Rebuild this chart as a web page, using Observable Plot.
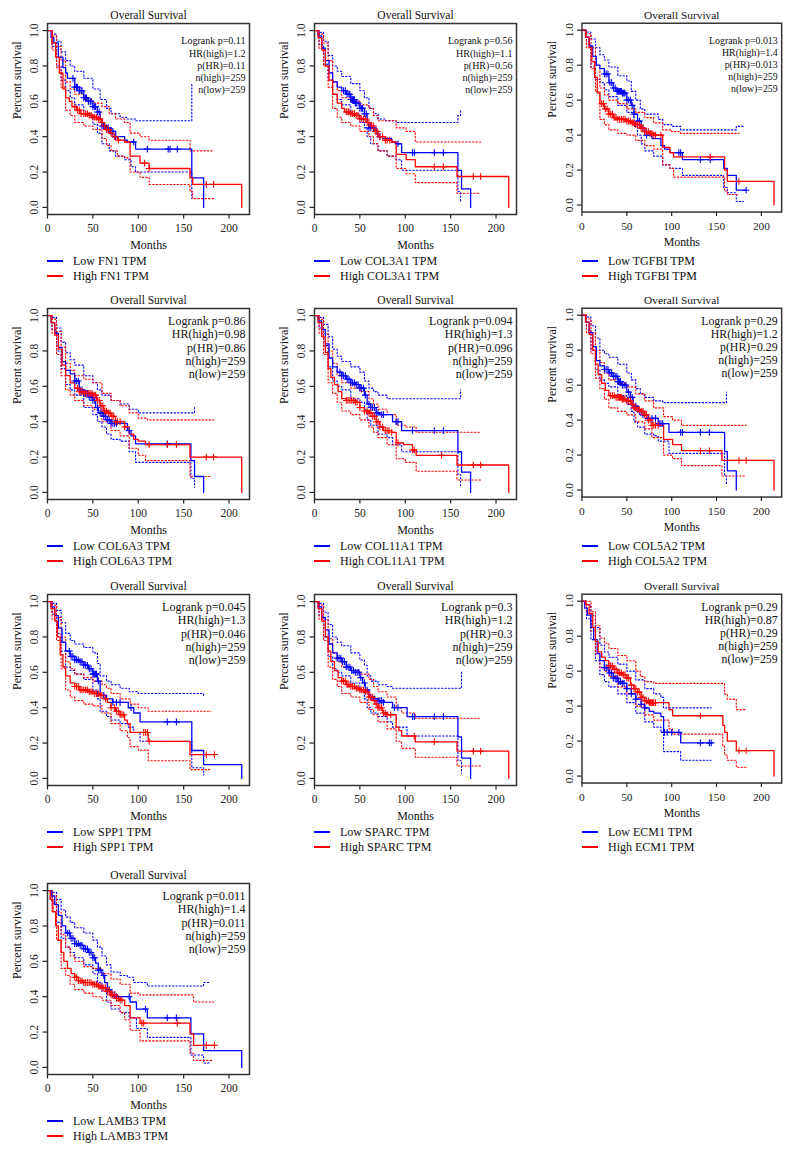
<!DOCTYPE html>
<html><head><meta charset="utf-8">
<script src="https://cdn.jsdelivr.net/npm/d3@7"></script>
<script src="https://cdn.jsdelivr.net/npm/@observablehq/plot@0.6"></script>
<style>
body{margin:0;background:#fff;}
#root{position:relative;width:795px;height:1154px;background:#fff;font-family:"Liberation Serif","Times New Roman",serif;color:#111;overflow:hidden}
.panel{position:absolute}
.panel svg{overflow:visible}
.leg{position:absolute;height:14px;line-height:14px;font-size:12px;white-space:nowrap;width:260px}
.leg .ln{position:absolute;top:6px;height:1.5px;width:16.5px}
.leg .tx{position:absolute;top:0}
</style></head><body><div id="root"></div><script>
// ---------- DATA ----------
const genes = ["FN1","COL3A1","TGFBI","COL6A3","COL11A1","COL5A2","SPP1","SPARC","ECM1","LAMB3"];
const logrankP = ["0.11","0.56","0.013","0.86","0.094","0.29","0.045","0.3","0.29","0.011"];
const hrHigh   = ["1.2","1.1","1.4","0.98","1.3","1.2","1.3","1.2","0.87","1.4"];
const pHR      = ["0.11","0.56","0.013","0.86","0.096","0.29","0.046","0.3","0.29","0.011"];
const nHigh    = [259,259,259,259,259,259,259,259,259,259];
const nLow     = [259,259,259,259,259,259,259,259,259,259];
const xTicks = [0,50,100,150,200];
const yTicks = [0,0.2,0.4,0.6,0.8,1.0];

// FN1
const FN1_low = [[0,1],[4,0.96],[7,0.93],[12,0.85],[17,0.79],[20,0.76],[22,0.73],[30,0.68],[35,0.66],[40,0.62],[45,0.60],[50,0.57],[55,0.54],[58,0.50],[60,0.46],[65,0.45],[70,0.43],[75,0.40],[85,0.38],[88,0.37],[97,0.33],[159,0.167],[172,0]];
const FN1_high = [[0,1],[5,0.93],[9,0.85],[13,0.76],[17,0.67],[20,0.62],[24,0.60],[27,0.57],[32,0.55],[36,0.53],[45,0.52],[50,0.51],[55,0.50],[60,0.48],[62,0.46],[65,0.44],[68,0.42],[72,0.40],[77,0.38],[85,0.37],[91,0.29],[102,0.25],[112,0.22],[157,0.167],[160,0.13],[214,0]];
const FN1_lowCens = [28,30,32,33,35,37,38,40,42,43,45,47,48,50,52,53,55,57,60,62,63,65,67,70,72,75,95,110,133,135,143];
const FN1_highCens = [30,33,35,37,40,42,44,46,48,50,52,54,56,58,60,63,65,67,70,74,78,107,112,175,183];
const FN1_lowUp = [[0,1],[5,0.98],[10,0.94],[15,0.88],[20,0.83],[25,0.80],[30,0.77],[40,0.73],[50,0.67],[58,0.61],[65,0.56],[70,0.53],[80,0.51],[87,0.50],[97,0.49],[159,0.70]];
const FN1_lowDn = [[0,1],[5,0.91],[10,0.80],[15,0.72],[20,0.66],[25,0.62],[30,0.58],[40,0.53],[50,0.47],[55,0.42],[60,0.36],[68,0.32],[75,0.29],[85,0.27],[92,0.23],[97,0.20],[159,0.05]];
const FN1_highUp = [[0,1],[5,0.97],[10,0.91],[15,0.83],[20,0.71],[25,0.67],[30,0.64],[40,0.61],[50,0.59],[60,0.57],[68,0.53],[75,0.50],[85,0.48],[91,0.42],[102,0.40],[112,0.38],[157,0.32],[183,0.32]];
const FN1_highDn = [[0,1],[5,0.89],[10,0.79],[15,0.68],[20,0.55],[25,0.52],[30,0.48],[40,0.46],[50,0.44],[60,0.39],[65,0.35],[70,0.32],[77,0.29],[85,0.28],[91,0.20],[102,0.17],[112,0.13],[157,0.09],[160,0.05],[183,0.05]];

// COL3A1
const COL3A1_low = [[0,1],[4,0.97],[8,0.90],[12,0.83],[16,0.76],[20,0.71],[25,0.68],[30,0.66],[35,0.64],[40,0.61],[45,0.59],[50,0.56],[55,0.53],[58,0.48],[60,0.45],[66,0.43],[70,0.40],[75,0.39],[85,0.37],[90,0.36],[96,0.31],[158,0.21],[162,0.105],[172,0]];
const COL3A1_high = [[0,1],[4,0.96],[8,0.89],[12,0.80],[16,0.72],[20,0.64],[25,0.59],[30,0.56],[33,0.54],[40,0.53],[45,0.52],[50,0.50],[58,0.48],[62,0.46],[66,0.43],[70,0.40],[78,0.38],[85,0.37],[90,0.30],[101,0.27],[111,0.23],[157,0.175],[214,0]];
const COL3A1_lowCens = [32,34,36,38,39,40,41,42,43,44,45,46,48,50,52,53,55,57,60,62,65,68,72,92,108,110,132,142];
const COL3A1_highCens = [35,37,38,40,42,44,46,48,50,52,54,56,58,60,63,65,67,69,72,75,78,80,83,132,142,175,183];
const COL3A1_lowUp = [[0,1],[5,0.99],[10,0.94],[15,0.86],[20,0.80],[25,0.77],[30,0.74],[40,0.70],[50,0.66],[55,0.62],[60,0.56],[65,0.53],[70,0.50],[78,0.49],[90,0.48],[158,0.52],[161,0.55]];
const COL3A1_lowDn = [[0,1],[5,0.92],[10,0.81],[15,0.72],[20,0.64],[25,0.61],[30,0.58],[40,0.53],[50,0.48],[55,0.45],[58,0.40],[62,0.36],[70,0.32],[80,0.29],[90,0.27],[96,0.21],[158,0.09],[161,0.03]];
const COL3A1_highUp = [[0,1],[5,0.98],[10,0.93],[15,0.83],[20,0.71],[25,0.66],[30,0.62],[40,0.60],[50,0.58],[60,0.56],[65,0.52],[70,0.49],[90,0.45],[101,0.43],[111,0.37],[157,0.37],[183,0.37]];
const COL3A1_highDn = [[0,1],[5,0.90],[10,0.80],[15,0.68],[20,0.56],[25,0.51],[30,0.48],[40,0.46],[50,0.43],[60,0.40],[65,0.36],[70,0.32],[80,0.29],[90,0.22],[101,0.19],[111,0.14],[157,0.08],[183,0.08]];

// TGFBI
const TGFBI_low = [[0,1],[4,0.96],[8,0.91],[12,0.85],[16,0.80],[20,0.78],[25,0.75],[30,0.70],[35,0.67],[38,0.65],[45,0.64],[50,0.60],[55,0.57],[58,0.52],[62,0.48],[66,0.44],[70,0.40],[78,0.38],[88,0.34],[92,0.32],[98,0.30],[112,0.26],[158,0.21],[162,0.17],[172,0.085],[183,0.085]];
const TGFBI_high = [[0,1],[4,0.96],[8,0.90],[11,0.82],[14,0.73],[17,0.64],[20,0.58],[25,0.55],[30,0.52],[35,0.50],[40,0.49],[50,0.48],[55,0.47],[60,0.46],[65,0.44],[70,0.42],[75,0.41],[80,0.40],[90,0.33],[98,0.30],[102,0.275],[159,0.20],[162,0.135],[214,0]];
const TGFBI_lowCens = [25,27,29,31,33,35,37,39,40,41,42,43,44,45,46,47,48,50,52,54,56,58,62,64,68,72,108,110,132,143,183];
const TGFBI_highCens = [22,24,26,28,30,32,34,36,38,40,42,44,46,48,50,52,54,56,58,60,62,64,66,68,70,72,74,76,78,80,82,88,143,175];
const TGFBI_lowUp = [[0,1],[5,0.99],[10,0.95],[15,0.90],[20,0.86],[25,0.83],[30,0.79],[40,0.74],[50,0.71],[55,0.65],[60,0.60],[65,0.55],[70,0.52],[85,0.49],[90,0.46],[100,0.45],[110,0.43],[158,0.43],[172,0.45],[180,0.46]];
const TGFBI_lowDn = [[0,1],[5,0.92],[10,0.79],[15,0.72],[20,0.70],[25,0.66],[30,0.62],[40,0.57],[50,0.53],[58,0.45],[62,0.40],[66,0.35],[70,0.31],[80,0.28],[90,0.23],[98,0.21],[112,0.17],[158,0.10],[162,0.07],[172,0.02],[180,0.02]];
const TGFBI_highUp = [[0,1],[5,0.98],[10,0.90],[15,0.80],[20,0.67],[25,0.63],[30,0.60],[40,0.58],[50,0.55],[60,0.53],[70,0.50],[80,0.47],[90,0.43],[100,0.42],[110,0.41],[158,0.41],[175,0.41]];
const TGFBI_highDn = [[0,1],[5,0.90],[10,0.78],[15,0.65],[20,0.49],[25,0.46],[30,0.43],[40,0.41],[50,0.40],[60,0.37],[70,0.34],[80,0.32],[90,0.23],[98,0.21],[102,0.16],[159,0.08],[162,0.06],[175,0.06]];

// COL6A3
const COL6A3_low = [[0,1],[4,0.96],[8,0.90],[12,0.82],[16,0.74],[20,0.69],[25,0.67],[30,0.63],[35,0.58],[40,0.56],[45,0.54],[50,0.52],[53,0.48],[56,0.45],[62,0.43],[66,0.41],[70,0.39],[80,0.39],[88,0.35],[92,0.32],[97,0.275],[158,0.18],[162,0.09],[172,0]];
const COL6A3_high = [[0,1],[4,0.96],[8,0.89],[12,0.81],[16,0.72],[20,0.66],[25,0.62],[30,0.59],[35,0.57],[40,0.56],[50,0.55],[54,0.52],[58,0.49],[62,0.46],[66,0.45],[70,0.43],[75,0.40],[85,0.37],[90,0.33],[95,0.30],[100,0.29],[108,0.27],[157,0.20],[214,0]];
const COL6A3_lowCens = [30,32,34,36,38,40,42,44,46,48,50,52,55,58,60,62,64,66,68,70,72,74,76,90,132];
const COL6A3_highCens = [33,35,37,39,41,43,45,47,49,51,53,55,57,59,61,63,65,67,69,71,73,75,77,80,85,112,132,142,175,183];
const COL6A3_lowUp = [[0,1],[5,0.99],[10,0.93],[15,0.85],[20,0.79],[25,0.75],[30,0.72],[40,0.66],[50,0.62],[55,0.58],[60,0.55],[70,0.52],[80,0.50],[90,0.47],[100,0.45],[158,0.45],[162,0.48]];
const COL6A3_lowDn = [[0,1],[5,0.92],[10,0.80],[15,0.70],[20,0.61],[25,0.58],[30,0.55],[40,0.48],[50,0.44],[55,0.40],[60,0.37],[65,0.33],[70,0.30],[80,0.29],[90,0.23],[97,0.17],[158,0.08],[162,0.03]];
const COL6A3_highUp = [[0,1],[5,0.98],[10,0.91],[15,0.82],[20,0.73],[25,0.69],[30,0.66],[40,0.64],[50,0.62],[60,0.56],[70,0.52],[80,0.49],[90,0.45],[100,0.42],[110,0.41],[157,0.41],[183,0.41]];
const COL6A3_highDn = [[0,1],[5,0.90],[10,0.78],[15,0.66],[20,0.58],[25,0.55],[30,0.52],[40,0.49],[50,0.47],[60,0.40],[70,0.35],[80,0.32],[90,0.25],[100,0.21],[108,0.18],[157,0.09],[180,0.09]];

// COL11A1
const COL11A1_low = [[0,1],[4,0.97],[8,0.92],[12,0.84],[16,0.76],[20,0.71],[25,0.68],[30,0.66],[35,0.64],[40,0.62],[45,0.61],[50,0.59],[55,0.55],[58,0.50],[62,0.48],[68,0.45],[72,0.44],[86,0.40],[96,0.35],[158,0.23],[162,0.115],[172,0]];
const COL11A1_high = [[0,1],[4,0.96],[8,0.88],[12,0.79],[15,0.70],[18,0.65],[22,0.61],[26,0.57],[30,0.53],[35,0.52],[45,0.51],[50,0.48],[55,0.46],[60,0.45],[64,0.43],[68,0.40],[72,0.37],[76,0.35],[85,0.34],[90,0.28],[98,0.27],[108,0.24],[112,0.21],[157,0.155],[214,0]];
const COL11A1_lowCens = [28,30,32,34,36,38,40,42,44,46,48,50,52,54,56,60,62,64,66,68,70,74,76,90,92,108,132,142];
const COL11A1_highCens = [35,37,39,41,43,45,47,50,55,58,60,62,64,66,68,70,72,75,78,80,82,85,92,108,110,140,175,183];
const COL11A1_lowUp = [[0,1],[5,0.99],[10,0.95],[15,0.88],[20,0.81],[25,0.77],[30,0.74],[40,0.71],[50,0.68],[55,0.63],[60,0.59],[65,0.57],[70,0.55],[80,0.53],[158,0.53],[161,0.58]];
const COL11A1_lowDn = [[0,1],[5,0.93],[10,0.83],[15,0.71],[20,0.63],[25,0.60],[30,0.58],[40,0.53],[50,0.51],[55,0.47],[58,0.41],[62,0.38],[70,0.33],[80,0.31],[86,0.27],[96,0.23],[158,0.10],[161,0.03]];
const COL11A1_highUp = [[0,1],[5,0.98],[10,0.90],[15,0.80],[20,0.73],[25,0.66],[30,0.62],[40,0.59],[50,0.57],[60,0.53],[65,0.50],[70,0.47],[80,0.44],[90,0.38],[100,0.37],[112,0.34],[157,0.34],[183,0.34]];
const COL11A1_highDn = [[0,1],[5,0.90],[10,0.78],[15,0.62],[20,0.56],[25,0.51],[30,0.46],[40,0.44],[50,0.41],[60,0.37],[65,0.34],[70,0.31],[80,0.27],[90,0.19],[100,0.17],[112,0.12],[157,0.07],[183,0.07]];

// COL5A2
const COL5A2_low = [[0,1],[4,0.96],[8,0.90],[12,0.82],[16,0.74],[20,0.71],[25,0.69],[30,0.67],[35,0.65],[40,0.62],[45,0.60],[50,0.56],[54,0.53],[57,0.48],[62,0.45],[66,0.43],[72,0.41],[85,0.38],[97,0.33],[159,0.22],[162,0.11],[172,0]];
const COL5A2_high = [[0,1],[4,0.96],[8,0.89],[12,0.80],[15,0.72],[18,0.66],[22,0.61],[26,0.57],[30,0.54],[38,0.53],[45,0.52],[50,0.51],[55,0.49],[58,0.47],[62,0.46],[66,0.45],[70,0.43],[74,0.40],[78,0.37],[91,0.29],[101,0.26],[111,0.225],[156,0.17],[214,0]];
const COL5A2_lowCens = [25,27,29,31,33,35,37,39,40,41,42,43,45,47,49,52,54,56,60,64,68,74,78,82,86,88,90,110,112,132,142];
const COL5A2_highCens = [32,34,36,38,40,41,42,43,44,45,46,48,50,52,54,56,58,60,62,64,66,68,70,72,74,76,78,80,82,85,132,142,175,183];
const COL5A2_lowUp = [[0,1],[5,0.99],[10,0.94],[15,0.87],[20,0.80],[25,0.78],[30,0.76],[40,0.72],[50,0.67],[55,0.63],[60,0.58],[65,0.55],[70,0.53],[80,0.51],[90,0.50],[159,0.50],[161,0.56]];
const COL5A2_lowDn = [[0,1],[5,0.92],[10,0.80],[15,0.69],[20,0.63],[25,0.61],[30,0.59],[40,0.54],[50,0.49],[55,0.45],[58,0.39],[62,0.36],[70,0.32],[80,0.31],[85,0.28],[97,0.21],[159,0.08],[161,0.03]];
const COL5A2_highUp = [[0,1],[5,0.98],[10,0.90],[15,0.80],[20,0.73],[25,0.67],[30,0.63],[40,0.61],[50,0.59],[60,0.55],[70,0.51],[80,0.47],[91,0.42],[101,0.40],[111,0.37],[156,0.37],[183,0.37]];
const COL5A2_highDn = [[0,1],[5,0.90],[10,0.78],[15,0.64],[20,0.58],[25,0.52],[30,0.47],[40,0.45],[50,0.43],[60,0.39],[70,0.35],[78,0.30],[91,0.20],[101,0.18],[111,0.14],[156,0.08],[183,0.08]];

// SPP1
const SPP1_low = [[0,1],[4,0.97],[8,0.92],[12,0.85],[16,0.77],[20,0.72],[25,0.69],[30,0.67],[35,0.66],[40,0.64],[45,0.62],[50,0.59],[55,0.55],[58,0.47],[65,0.45],[72,0.43],[89,0.40],[95,0.37],[102,0.32],[159,0.158],[172,0.078],[214,0]];
const SPP1_high = [[0,1],[4,0.96],[8,0.89],[11,0.80],[14,0.70],[17,0.63],[20,0.58],[25,0.54],[30,0.52],[35,0.50],[45,0.49],[52,0.48],[58,0.47],[62,0.45],[66,0.43],[70,0.40],[75,0.38],[80,0.36],[85,0.33],[88,0.31],[91,0.26],[111,0.21],[157,0.135],[184,0.135]];
const SPP1_lowCens = [24,26,28,30,32,34,36,38,40,42,44,46,48,50,51,52,53,54,56,62,72,76,80,92,132,142];
const SPP1_highCens = [30,32,34,36,38,40,42,44,46,48,50,52,54,56,58,60,64,70,74,76,78,80,82,84,106,108,110,112,175,184];
const SPP1_lowUp = [[0,1],[5,0.99],[10,0.95],[15,0.88],[20,0.82],[25,0.78],[30,0.76],[40,0.74],[50,0.71],[55,0.65],[58,0.58],[65,0.55],[70,0.53],[80,0.51],[90,0.49],[100,0.48],[159,0.48],[172,0.46]];
const SPP1_lowDn = [[0,1],[5,0.93],[10,0.82],[15,0.72],[20,0.63],[25,0.61],[30,0.59],[40,0.56],[50,0.50],[55,0.45],[58,0.38],[65,0.35],[70,0.33],[80,0.31],[89,0.29],[95,0.26],[102,0.21],[159,0.06],[172,0.02]];
const SPP1_highUp = [[0,1],[5,0.98],[10,0.91],[15,0.80],[20,0.66],[25,0.62],[30,0.59],[40,0.57],[50,0.55],[60,0.53],[65,0.51],[70,0.48],[80,0.45],[91,0.42],[100,0.40],[111,0.38],[157,0.38],[180,0.38]];
const SPP1_highDn = [[0,1],[5,0.90],[10,0.78],[15,0.62],[20,0.50],[25,0.46],[30,0.44],[40,0.42],[50,0.41],[60,0.37],[70,0.31],[80,0.27],[88,0.23],[91,0.18],[100,0.16],[111,0.10],[157,0.05],[180,0.05]];

// SPARC
const SPARC_low = [[0,1],[4,0.97],[8,0.91],[12,0.84],[16,0.76],[20,0.71],[25,0.68],[30,0.66],[35,0.63],[40,0.61],[45,0.60],[50,0.57],[53,0.54],[56,0.50],[60,0.46],[65,0.45],[70,0.44],[76,0.43],[86,0.40],[102,0.35],[158,0.235],[162,0.115],[172,0]];
const SPARC_high = [[0,1],[4,0.96],[8,0.89],[12,0.80],[15,0.72],[18,0.66],[22,0.61],[26,0.57],[30,0.55],[35,0.53],[40,0.52],[45,0.51],[50,0.50],[55,0.49],[60,0.46],[65,0.44],[68,0.42],[70,0.40],[75,0.37],[80,0.36],[90,0.29],[93,0.27],[96,0.24],[111,0.207],[157,0.154],[214,0]];
const SPARC_lowCens = [25,27,29,31,33,35,37,39,41,43,45,47,49,51,55,58,62,66,70,72,74,76,88,92,108,110,132,142];
const SPARC_highCens = [30,32,34,36,38,40,42,44,46,48,50,52,54,56,58,60,62,64,66,68,70,72,74,76,78,80,84,110,132,175,183];
const SPARC_lowUp = [[0,1],[5,0.99],[10,0.94],[15,0.87],[20,0.80],[25,0.77],[30,0.75],[40,0.71],[50,0.67],[55,0.64],[58,0.58],[62,0.55],[70,0.53],[80,0.52],[86,0.51],[158,0.51],[162,0.61]];
const SPARC_lowDn = [[0,1],[5,0.92],[10,0.80],[15,0.69],[20,0.62],[25,0.60],[30,0.58],[40,0.54],[50,0.49],[55,0.45],[58,0.40],[62,0.37],[70,0.35],[80,0.32],[86,0.29],[102,0.24],[158,0.10],[162,0.03]];
const SPARC_highUp = [[0,1],[5,0.98],[10,0.90],[15,0.79],[20,0.71],[25,0.66],[30,0.63],[40,0.61],[50,0.59],[60,0.56],[65,0.52],[70,0.49],[80,0.46],[90,0.40],[96,0.37],[111,0.34],[157,0.34],[183,0.34]];
const SPARC_highDn = [[0,1],[5,0.90],[10,0.78],[15,0.63],[20,0.56],[25,0.52],[30,0.48],[40,0.46],[50,0.43],[60,0.39],[65,0.36],[70,0.32],[80,0.28],[90,0.21],[96,0.17],[111,0.12],[157,0.07],[183,0.07]];

// ECM1
const ECM1_low = [[0,1],[3,0.96],[6,0.92],[10,0.85],[13,0.78],[17,0.70],[20,0.66],[25,0.62],[30,0.59],[35,0.56],[40,0.54],[45,0.53],[50,0.50],[55,0.47],[60,0.44],[66,0.41],[70,0.39],[75,0.37],[80,0.36],[88,0.34],[91,0.25],[110,0.19],[144,0.19]];
const ECM1_high = [[0,1],[4,0.98],[8,0.93],[12,0.85],[15,0.77],[18,0.71],[22,0.68],[26,0.66],[30,0.63],[35,0.61],[40,0.59],[45,0.58],[50,0.56],[54,0.52],[58,0.50],[62,0.48],[66,0.45],[70,0.43],[75,0.42],[97,0.38],[101,0.345],[157,0.29],[159,0.25],[162,0.20],[172,0.145],[214,0]];
const ECM1_lowCens = [25,27,29,31,33,35,37,39,41,43,45,47,50,55,60,66,70,92,95,100,108,132,142,144];
const ECM1_highCens = [30,32,34,36,38,40,42,44,46,48,50,52,55,58,60,62,64,66,68,70,72,74,75,76,77,78,79,80,82,132,175,183];
const ECM1_lowUp = [[0,1],[5,0.98],[10,0.92],[15,0.85],[20,0.75],[25,0.71],[30,0.68],[40,0.64],[50,0.60],[60,0.55],[70,0.50],[80,0.47],[88,0.45],[91,0.39],[144,0.39]];
const ECM1_lowDn = [[0,1],[5,0.90],[10,0.78],[15,0.66],[20,0.58],[25,0.54],[30,0.51],[40,0.47],[50,0.42],[60,0.36],[70,0.31],[80,0.28],[88,0.25],[91,0.14],[110,0.09],[144,0.09]];
const ECM1_highUp = [[0,1],[10,0.94],[15,0.86],[20,0.79],[25,0.76],[30,0.73],[40,0.69],[50,0.66],[60,0.60],[65,0.57],[70,0.54],[80,0.53],[157,0.53],[159,0.47],[162,0.44],[172,0.38],[183,0.38]];
const ECM1_highDn = [[0,1],[5,0.93],[10,0.83],[15,0.70],[20,0.62],[25,0.60],[30,0.57],[40,0.51],[50,0.47],[60,0.40],[70,0.35],[80,0.32],[97,0.27],[101,0.24],[157,0.17],[159,0.12],[162,0.09],[172,0.05],[183,0.05]];

// LAMB3
const LAMB3_low = [[0,1],[4,0.97],[8,0.92],[12,0.86],[16,0.80],[20,0.76],[25,0.73],[30,0.70],[35,0.69],[40,0.67],[45,0.65],[50,0.62],[53,0.59],[56,0.55],[60,0.52],[63,0.48],[66,0.44],[70,0.41],[75,0.40],[91,0.37],[98,0.33],[110,0.28],[158,0.19],[172,0.095],[214,0]];
const LAMB3_high = [[0,1],[3,0.95],[6,0.88],[9,0.80],[12,0.72],[15,0.65],[18,0.60],[22,0.56],[26,0.53],[30,0.51],[34,0.49],[40,0.48],[50,0.47],[55,0.46],[60,0.45],[65,0.43],[70,0.41],[75,0.39],[80,0.38],[85,0.35],[91,0.28],[102,0.25],[157,0.19],[161,0.125],[184,0.125]];
const LAMB3_lowCens = [22,24,26,28,30,32,34,36,38,40,42,44,46,48,50,52,56,58,62,68,72,74,76,90,108,132,142];
const LAMB3_highCens = [30,32,34,36,38,40,42,44,46,48,50,52,54,56,58,60,62,64,66,68,70,72,74,76,78,80,82,104,106,143,175,184];
const LAMB3_lowUp = [[0,1],[5,0.99],[10,0.95],[15,0.89],[20,0.85],[25,0.82],[30,0.79],[40,0.76],[50,0.72],[55,0.68],[60,0.63],[65,0.58],[70,0.54],[80,0.52],[88,0.51],[95,0.48],[110,0.46],[158,0.46],[172,0.48],[178,0.48]];
const LAMB3_lowDn = [[0,1],[5,0.93],[10,0.82],[15,0.73],[20,0.68],[25,0.65],[30,0.62],[40,0.58],[50,0.53],[55,0.48],[60,0.43],[65,0.37],[70,0.33],[80,0.31],[90,0.28],[98,0.22],[110,0.17],[158,0.07],[172,0.025],[178,0.025]];
const LAMB3_highUp = [[0,1],[5,0.97],[10,0.88],[15,0.75],[20,0.68],[25,0.63],[30,0.60],[40,0.57],[50,0.56],[60,0.53],[70,0.50],[80,0.47],[91,0.42],[102,0.41],[157,0.41],[161,0.37],[183,0.37]];
const LAMB3_highDn = [[0,1],[5,0.88],[10,0.72],[15,0.56],[20,0.52],[25,0.47],[30,0.44],[40,0.42],[50,0.40],[60,0.38],[70,0.35],[80,0.31],[85,0.27],[91,0.21],[102,0.15],[157,0.08],[161,0.04],[183,0.04]];

// ---------- LAYOUT ----------
const colLeft = [47, 314, 582];
const rowTop = [23, 308, 594, 883];
const FW = 202, FH = 191;
const mL = 47, mT = 23, mR = 14, mB = 42;
const BLUE = "#0000ff", RED = "#ff0000";

const curves = {
  FN1:[FN1_low,FN1_high,FN1_lowCens,FN1_highCens,FN1_lowUp,FN1_lowDn,FN1_highUp,FN1_highDn],
  COL3A1:[COL3A1_low,COL3A1_high,COL3A1_lowCens,COL3A1_highCens,COL3A1_lowUp,COL3A1_lowDn,COL3A1_highUp,COL3A1_highDn],
  TGFBI:[TGFBI_low,TGFBI_high,TGFBI_lowCens,TGFBI_highCens,TGFBI_lowUp,TGFBI_lowDn,TGFBI_highUp,TGFBI_highDn],
  COL6A3:[COL6A3_low,COL6A3_high,COL6A3_lowCens,COL6A3_highCens,COL6A3_lowUp,COL6A3_lowDn,COL6A3_highUp,COL6A3_highDn],
  COL11A1:[COL11A1_low,COL11A1_high,COL11A1_lowCens,COL11A1_highCens,COL11A1_lowUp,COL11A1_lowDn,COL11A1_highUp,COL11A1_highDn],
  COL5A2:[COL5A2_low,COL5A2_high,COL5A2_lowCens,COL5A2_highCens,COL5A2_lowUp,COL5A2_lowDn,COL5A2_highUp,COL5A2_highDn],
  SPP1:[SPP1_low,SPP1_high,SPP1_lowCens,SPP1_highCens,SPP1_lowUp,SPP1_lowDn,SPP1_highUp,SPP1_highDn],
  SPARC:[SPARC_low,SPARC_high,SPARC_lowCens,SPARC_highCens,SPARC_lowUp,SPARC_lowDn,SPARC_highUp,SPARC_highDn],
  ECM1:[ECM1_low,ECM1_high,ECM1_lowCens,ECM1_highCens,ECM1_lowUp,ECM1_lowDn,ECM1_highUp,ECM1_highDn],
  LAMB3:[LAMB3_low,LAMB3_high,LAMB3_lowCens,LAMB3_highCens,LAMB3_lowUp,LAMB3_lowDn,LAMB3_highUp,LAMB3_highDn]
};

function stepAt(c, t) { let v = c[0][1]; for (const p of c) { if (p[0] <= t) v = p[1]; else break; } return v; }

const root = document.getElementById("root");

genes.forEach((g, i) => {
  const r = Math.floor(i / 3), c = i % 3;
  const fl = colLeft[c], ft = rowTop[r];
  const [low, high, lowC, highC, lowUp, lowDn, highUp, highDn] = curves[g];
  const statSize = r === 0 ? 10 : 12;
  const statLH = r === 0 ? 1.23 : 1.11;
  const statDy = r === 0 ? 12 : 7;
  const stats = [`Logrank p=${logrankP[i]}`, `HR(high)=${hrHigh[i]}`, `p(HR)=${pHR[i]}`, `n(high)=${nHigh[i]}`, `n(low)=${nLow[i]}`].join("\n");
  const ln = (data, color, dotted) => Plot.line(data, {
    x: d => d[0], y: d => d[1], curve: "step-after", stroke: color,
    strokeWidth: dotted ? 1.1 : 1.3, ...(dotted ? {strokeDasharray: "1.4,2.1"} : {})
  });
  const cens = (times, curve, color) => Plot.dot(times.map(t => [t, stepAt(curve, t)]), {
    x: d => d[0], y: d => d[1], symbol: "plus", r: 2.3, stroke: color, strokeWidth: 1.1
  });
  const svg = Plot.plot({
    width: mL + FW + mR, height: mT + FH + mB,
    marginLeft: mL, marginTop: mT, marginRight: mR, marginBottom: mB,
    x: {domain: [0, 214 * 1.04]},
    y: {domain: [-0.04, 1.04]},
    style: {fontFamily: '"Liberation Serif","Times New Roman",serif', background: "transparent", color: "#222", fontSize: "11.5px", overflow: "visible"},
    marks: [
      Plot.axisX({ticks: xTicks, tickSize: 4.5, tickPadding: 5, fontSize: 11.5, label: null, strokeWidth: 1.2}),
      Plot.axisY({ticks: yTicks, tickFormat: d3.format(".1f"), tickSize: 4.5, tickPadding: 5, tickRotate: -90, fontSize: 11.5, label: null, strokeWidth: 1.2}),
      ln(lowUp, BLUE, true), ln(lowDn, BLUE, true),
      ln(highUp, RED, true), ln(highDn, RED, true),
      ln(low, BLUE, false),
      ln(high, RED, false),
      cens(lowC, low, BLUE),
      cens(highC, high, RED),
      Plot.frame({stroke: "#333", strokeWidth: 1.5}),
      Plot.text(["Overall Survival"], {text: d => d, frameAnchor: "top", dy: -8, lineAnchor: "middle", fontSize: 11.5, fill: "#111"}),
      Plot.text(["Months"], {text: d => d, frameAnchor: "bottom", dy: 31, lineAnchor: "middle", fontSize: 12, fill: "#111"}),
      Plot.text(["Percent survival"], {text: d => d, frameAnchor: "left", dx: -30, rotate: -90, lineAnchor: "middle", fontSize: 12, fill: "#111"}),
      Plot.text([stats], {text: d => d, frameAnchor: "top-right", dx: -4, dy: statDy, textAnchor: "end", lineAnchor: "top", fontSize: statSize, lineHeight: statLH, fill: "#111"})
    ]
  });
  const div = document.createElement("div");
  div.className = "panel";
  div.style.left = (fl - mL) + "px";
  div.style.top = (ft - mT) + "px";
  div.appendChild(svg);
  root.appendChild(div);
  // legend
  [["Low " + g + " TPM", BLUE], ["High " + g + " TPM", RED]].forEach(([label, color], k) => {
    const lg = document.createElement("div");
    lg.className = "leg";
    lg.style.left = "0px";
    lg.style.top = Math.round(ft + FH + 47.4 + k * 14.3 - 7) + "px";
    lg.innerHTML = `<span class="ln" style="left:${fl - 0.5}px;background:${color}"></span><span class="tx" style="left:${fl + 26}px">${label}</span>`;
    root.appendChild(lg);
  });
});
</script></body></html>
